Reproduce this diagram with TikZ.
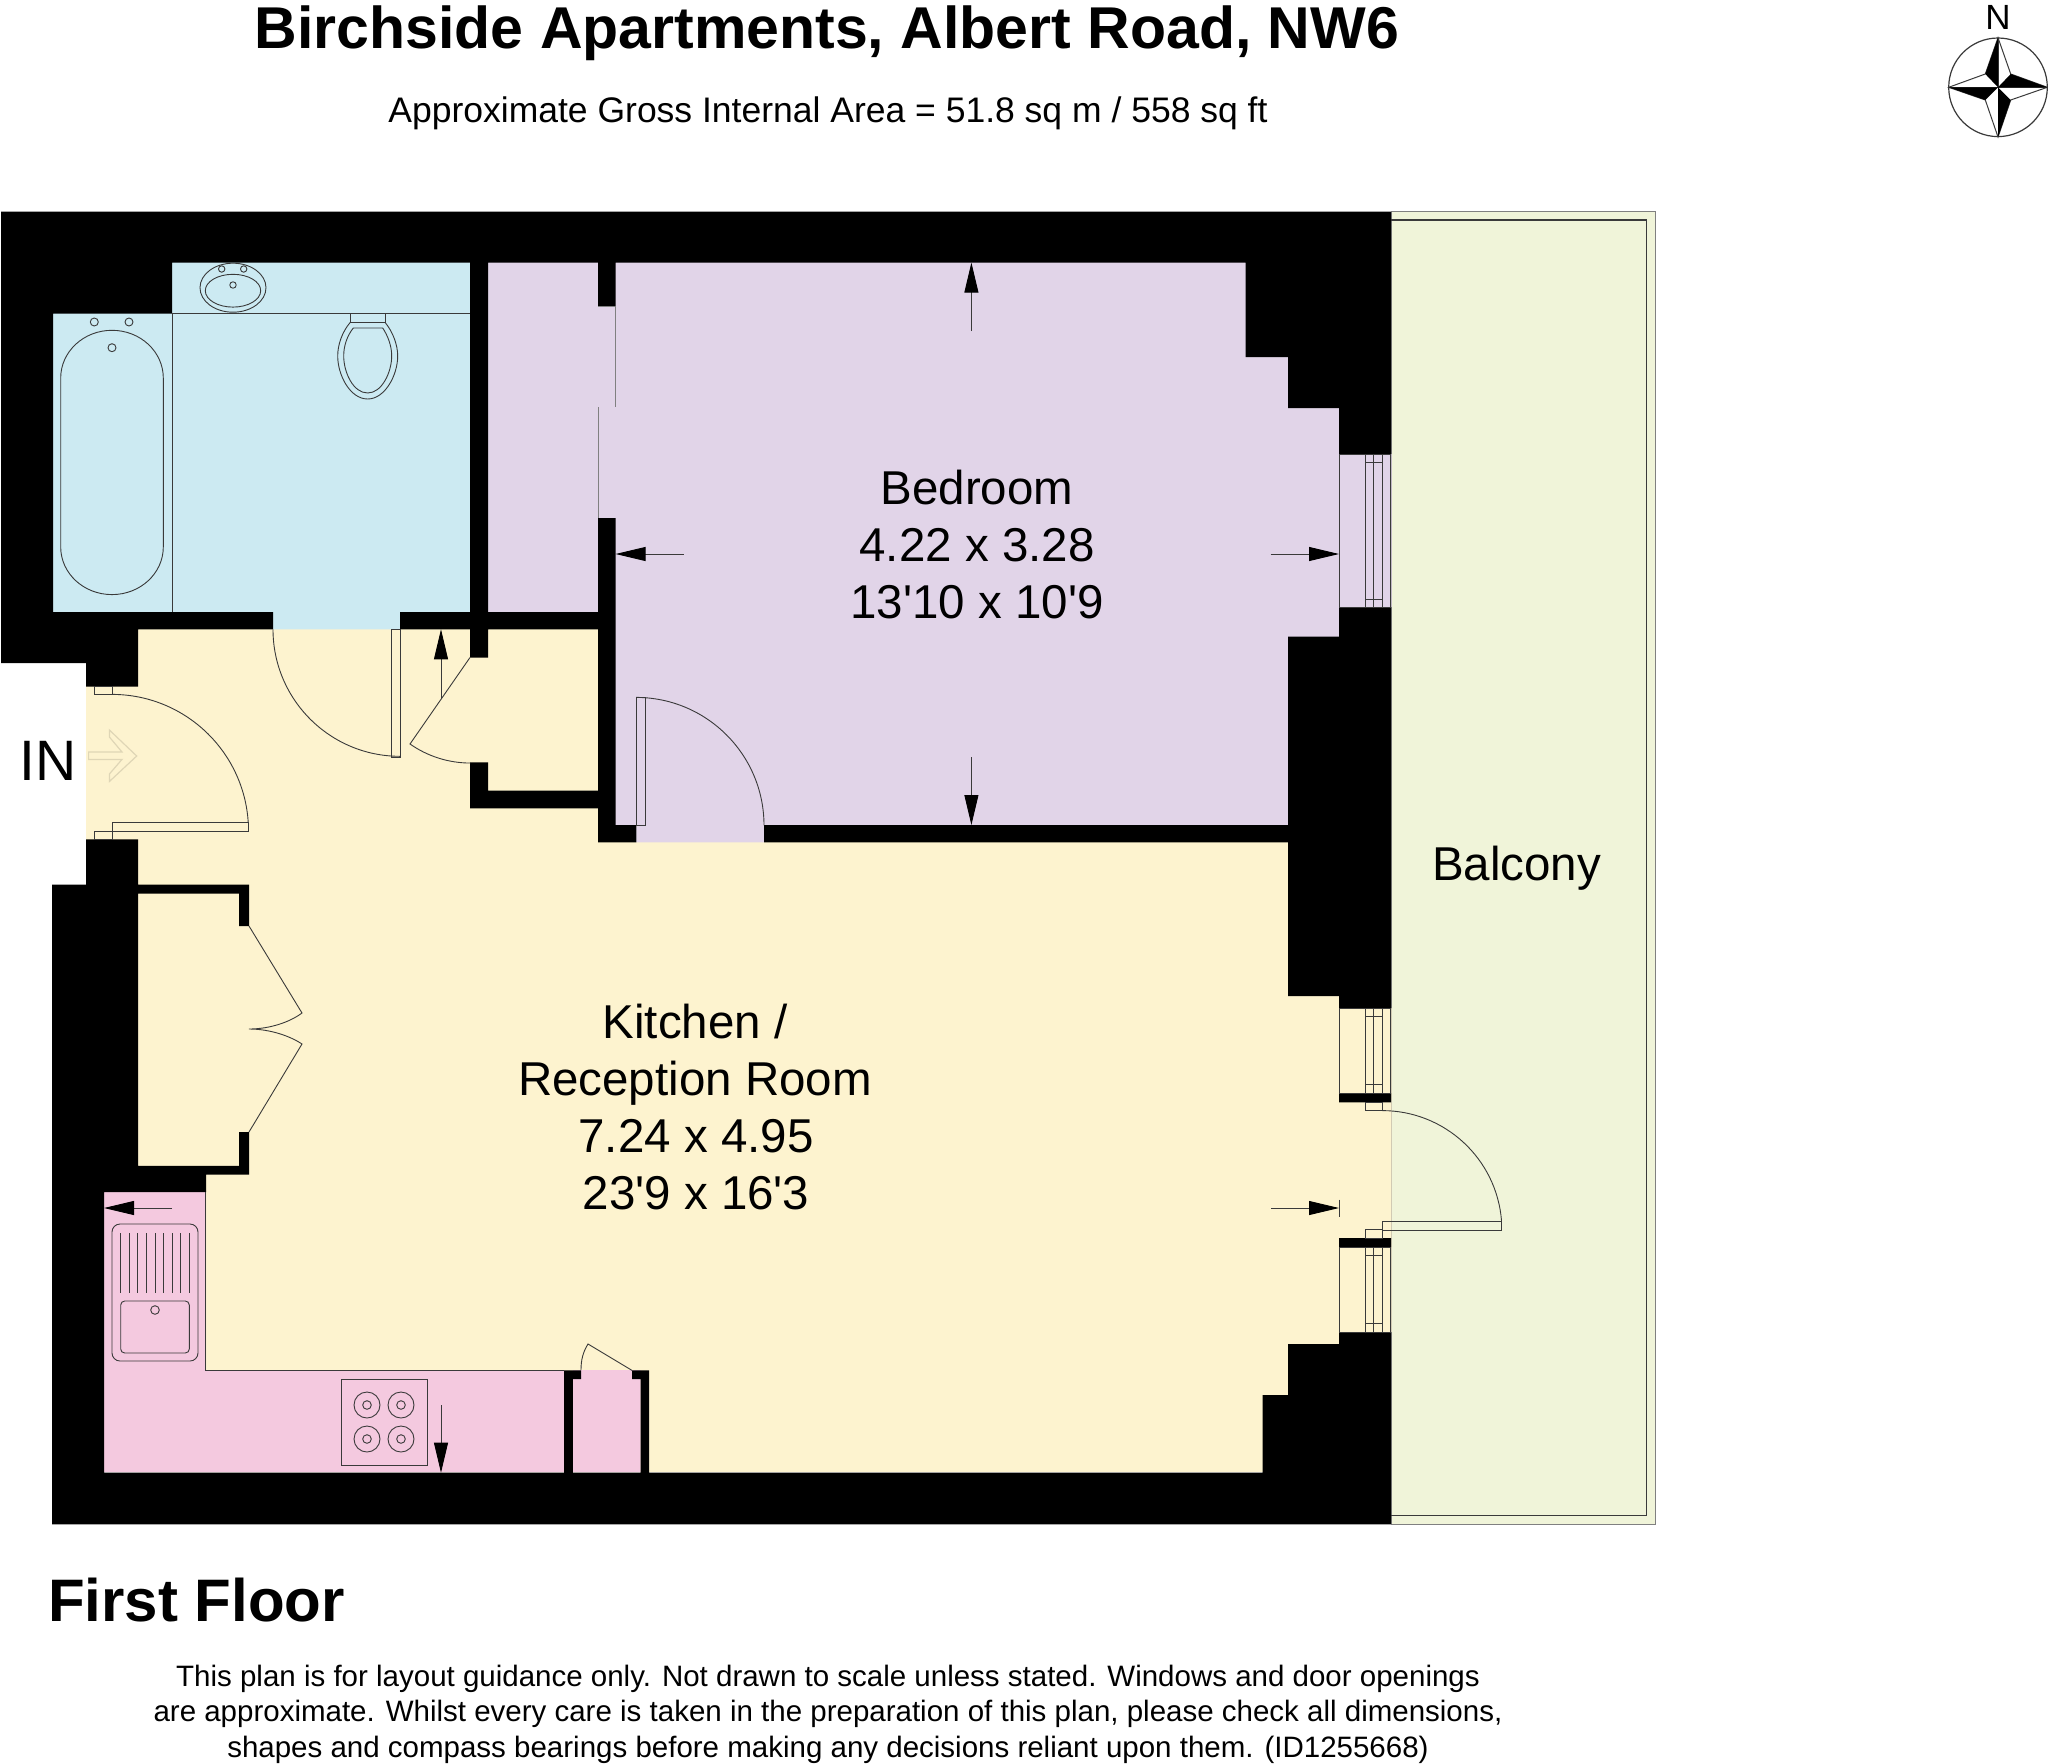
\documentclass[tikz,border=0pt]{standalone}
\usepackage{fontspec}
\setmainfont{Liberation Sans}
\newfontfamily\plainlib{Liberation Sans}
\usetikzlibrary{arrows.meta}
\definecolor{hallY}{HTML}{FDF3CF}
\definecolor{bathB}{HTML}{CCEAF2}
\definecolor{bedP}{HTML}{E1D4E8}
\definecolor{kitP}{HTML}{F4C9DF}
\definecolor{balG}{HTML}{F0F4D9}
\definecolor{lineD}{HTML}{3A3A3A}
\tikzset{
  wall/.style={fill=black},
  thinl/.style={draw=lineD,line width=.9pt,line join=miter},
  dimen/.style={draw=lineD,line width=.9pt,-{Triangle[length=30pt,width=14pt,fill=black,color=black]}},
  lbl/.style={anchor=base,inner sep=0pt,font=\plainlib\fontsize{47.5}{57}\selectfont},
  heading/.style={anchor=base,inner sep=0pt,font=\fontsize{59}{66}\selectfont\bfseries},
  note/.style={anchor=base,inner sep=0pt,font=\fontsize{29.5}{34}\selectfont}
}
\begin{document}
\begin{tikzpicture}[x=1pt,y=-1pt]
\useasboundingbox (0,0) rectangle (2048,1764);
\fill[white] (0,0) rectangle (2048,1764);
% balcony
\filldraw[fill=balG,draw=gray,line width=1pt] (1391,211.7) rectangle (1655.3,1524.3);
\draw[thinl,line width=1.1pt] (1391,220) -- (1646.5,220) -- (1646.5,1515.3) -- (1391,1515.3);
% floors
\fill[hallY] (86,629) rectangle (600,845) (138,842) rectangle (1339,1472) (1335,1008) rectangle (1391.6,1332) (86,600) rectangle (138,890);
\fill[bedP] (488,262) rectangle (600,612) (600,262) rectangle (1339,825) (636.4,820) rectangle (764,842.4) (1335,454) rectangle (1391.6,607);
\fill[bathB] (172,262) rectangle (470,612) (53,313) rectangle (172,612) (273,610) rectangle (400,629.3);
\fill[kitP] (104,1191) rectangle (206,1370) (104,1370) rectangle (564,1472) (573,1370) rectangle (640.6,1472);
% walls
\fill[wall]
 (1,211.7) rectangle (1391,262.6)
 (1,262) rectangle (172,313.6)
 (1,313) rectangle (53,612.2)
 (1,612) rectangle (273,629.3)
 (1,629) rectangle (138,663)
 (86,662.5) rectangle (138,686.6)
 (400,612) rectangle (615.6,629.3)
 (470,262) rectangle (488,612.5)
 (470,629) rectangle (488,657.5)
 (470,762.4) rectangle (488,791)
 (470,790.6) rectangle (615.6,808.4)
 (598,612) rectangle (615.6,791)
 (598,808) rectangle (615.6,842.4)
 (598,825) rectangle (636.4,842.4)
 (764,825) rectangle (1288,842.4)
 (598,262) rectangle (615.6,306)
 (598,518) rectangle (615.6,612.5)
 (1245.7,262) rectangle (1391,357)
 (1288,356.5) rectangle (1391,408)
 (1339,407.5) rectangle (1391,454)
 (1339,607) rectangle (1391,637)
 (1288,636.5) rectangle (1391,996)
 (1339,995.5) rectangle (1391,1008.5)
 (1339,1093) rectangle (1391,1102.4)
 (1339,1238) rectangle (1391,1247)
 (1339,1332) rectangle (1391,1344.4)
 (1288,1344) rectangle (1391,1395.5)
 (1262.7,1395) rectangle (1391,1473)
 (52,1472.7) rectangle (1391,1524.3)
 (86,839.4) rectangle (138,885)
 (52,884.5) rectangle (249,893.6)
 (52,893) rectangle (138,1174.6)
 (239,893) rectangle (249,926)
 (239,1132) rectangle (249,1174.6)
 (52,1165.9) rectangle (249,1174.6)
 (52,1174) rectangle (206,1192.2)
 (52,1191) rectangle (104,1473)
 (564,1370.4) rectangle (572.8,1473)
 (564,1370.4) rectangle (581,1379)
 (640.6,1370.4) rectangle (649,1473)
 (632,1370.4) rectangle (649,1379);
% partition lines
\draw[thinl,draw=gray] (615.6,306) -- (615.6,407) (598,407) -- (598,518) (598,306) -- (615.6,306);
\draw[thinl] (172,313.4) -- (470,313.4) (172,313.4) -- (172,612);
\draw[thinl] (205.7,1192) -- (205.7,1370.4) -- (564,1370.4);
% windows
\foreach \a/\b in {454/607.3,1008.5/1093,1247/1332}{
  \draw[thinl] (1339,\a) rectangle (1390.7,\b);
  \draw[thinl] (1365,\a) rectangle (1382.3,\b);
  \draw[thinl] (1373.7,\a) -- (1373.7,\b);
  \draw[thinl] (1365,\a+8.3) -- (1382.3,\a+8.3) (1365,\b-8.3) -- (1382.3,\b-8.3);
}
% doors
\draw[thinl] (94.7,686.6) rectangle (112,694.4);
\draw[thinl] (112,694.4) arc[start angle=90,end angle=3.5,radius=136.5pt];
\draw[thinl] (112,822.3) rectangle (248.6,831.4);
\draw[thinl] (94.7,831.4) rectangle (112,839.4);
\draw[thinl] (273,629.3) arc[start angle=180,end angle=270,radius=127pt];
\draw[thinl] (391.4,629.3) rectangle (400,757);
\draw[thinl] (470,657.5) -- (410,744) arc[start angle=235,end angle=270,radius=105.3pt];
\draw[thinl] (636,697.4) arc[start angle=90,end angle=0,radius=128pt];
\draw[thinl] (636.4,697.4) rectangle (645.7,825);
\draw[thinl] (1365,1102.4) rectangle (1382.3,1110.6);
\draw[thinl] (1382.3,1110.6) arc[start angle=90,end angle=4.5,radius=119.6pt];
\draw[thinl] (1382.3,1221) rectangle (1501.7,1230.4);
\draw[thinl] (1365,1229.7) rectangle (1382.3,1238);
\draw[thinl] (249,926) -- (302,1013) .. controls (290,1022) and (270,1029) .. (249,1029) .. controls (270,1029) and (290,1036) .. (302,1044) -- (249,1132);
\draw[thinl] (581,1370) .. controls (581,1360) and (583,1352) .. (588,1344) -- (632,1370.4);
% entrance arrow
\draw[draw=black!12!hallY,line width=1.2pt,line join=miter] (88.6,752) -- (122,752) -- (109.4,737) -- (109.4,730) -- (136.7,756) -- (109.4,781.5) -- (109.4,774) -- (122,759.4) -- (88.6,759.4) -- cycle;
% dimension arrows
\draw[dimen] (971.4,331) -- (971.4,262.6);
\draw[dimen] (971.4,757) -- (971.4,825);
\draw[dimen] (683.6,554) -- (615.6,554);
\draw[dimen] (1270.7,554) -- (1339,554);
\draw[dimen] (441,698.7) -- (441,629.3);
\draw[dimen] (172,1208) -- (104,1208);
\draw[dimen] (441,1405) -- (441,1472.7);
\draw[dimen] (1271,1208) -- (1339,1208);
\draw[thinl] (1339,1199.7) -- (1339,1216.7);
% bath
\draw[thinl] (60.7,378) arc[start angle=180,end angle=90,x radius=51.3pt,y radius=47.7pt]
  arc[start angle=90,end angle=0,x radius=51.3pt,y radius=47.7pt] -- (163.3,547)
  arc[start angle=0,end angle=-90,x radius=51.3pt,y radius=47.6pt]
  arc[start angle=-90,end angle=-180,x radius=51.3pt,y radius=47.6pt] -- cycle;
\draw[thinl] (94.3,322) circle[radius=4pt] (129,322) circle[radius=4pt] (112,347.7) circle[radius=4pt];
% basin
\draw[thinl] (233,287.7) ellipse[x radius=33pt,y radius=24.5pt];
\draw[thinl] (233,290.7) ellipse[x radius=27.7pt,y radius=16.4pt];
\draw[thinl] (221.7,269) circle[radius=3.2pt] (243.7,269) circle[radius=3.2pt] (233,285) circle[radius=3.2pt];
% toilet
\draw[thinl] (350.3,313.4) rectangle (385,322.3);
\draw[thinl] (350.3,322.3) .. controls (342,332) and (337.7,345) .. (337.7,356) .. controls (337.7,375) and (350,399) .. (367.7,399) .. controls (385,399) and (397.7,375) .. (397.7,356) .. controls (397.7,345) and (393,332) .. (385,322.3);
\draw[thinl] (353.3,328) .. controls (347,336) and (343.7,346) .. (343.7,356) .. controls (343.7,372) and (353,393) .. (367.7,393) .. controls (382,393) and (391.7,372) .. (391.7,356) .. controls (391.7,346) and (388,336) .. (382.7,328) -- cycle;
% sink
\draw[thinl,rounded corners=8pt] (112,1224) rectangle (198,1361);
\draw[thinl,rounded corners=4pt] (120.7,1301) rectangle (189.3,1353);
\foreach \i in {0,...,8}{\draw[thinl] (120.7+8.575*\i,1233) -- (120.7+8.575*\i,1293);}
\draw[thinl] (155,1310) circle[radius=4.3pt];
% hob
\draw[thinl] (341,1379) rectangle (427,1465);
\foreach \x in {367,401}{\foreach \y in {1405,1439}{
  \draw[thinl] (\x,\y) circle[radius=13pt] (\x,\y) circle[radius=4.3pt];}}
% compass
\draw[draw=lineD,line width=1.2pt] (1998,87.3) circle[radius=49.3pt];
\draw[draw=lineD,line width=1pt,line join=miter] (1998,37.7) -- (2010.7,74) -- (2047.3,87.3) -- (2010.7,100) -- (1998,137) -- (1985.3,100) -- (1948.7,87.3) -- (1985.3,74) -- cycle;
\draw[draw=lineD,line width=1pt] (1948.7,87.3) -- (2047.3,87.3) (1998,37.7) -- (1998,137);
\fill[black] (1998,37.7) -- (1985.3,74) -- (1998,87.3) -- cycle
 (1998,87.3) -- (2010.7,74) -- (2047.3,87.3) -- cycle
 (1998,87.3) -- (2010.7,100) -- (1998,137) -- cycle
 (1998,87.3) -- (1985.3,100) -- (1948.7,87.3) -- cycle;
% text
\node[heading] (title) at (827,48) {Birchside Apartments, Albert Road, NW6};
\node[anchor=base,inner sep=0pt,font=\fontsize{35.5}{40}\selectfont] (sub) at (828,122) {Approximate Gross Internal Area = 51.8 sq m / 558 sq ft};
\node[anchor=base,inner sep=0pt,font=\fontsize{35}{40}\selectfont] (north) at (1998,29.3) {N};
\node[anchor=base west,inner sep=0pt,font=\fontsize{57}{60}\selectfont] (in) at (19,780) {IN};
\node[lbl] (bed1) at (977,504.5) {Bedroom};
\node[lbl] (bed2) at (977,561.5) {4.22 x 3.28};
\node[lbl] (bed3) at (977,618.5) {13'10 x 10'9};
\node[lbl] (kit1) at (695,1038) {Kitchen /};
\node[lbl] (kit2) at (695,1095) {Reception Room};
\node[lbl] (kit3) at (696,1152) {7.24 x 4.95};
\node[lbl] (kit4) at (696,1209) {23'9 x 16'3};
\node[lbl] (balc) at (1516.5,880) {Balcony};
\node[heading,anchor=base west,font=\fontsize{60}{66}\selectfont\bfseries] (floor) at (48,1621) {First Floor};
\node[note] (n1) at (828,1686) {This plan is for layout guidance only. Not drawn to scale unless stated. Windows and door openings};
\node[note] (n2) at (828,1721.5) {are approximate. Whilst every care is taken in the preparation of this plan, please check all dimensions,};
\node[note] (n3) at (828,1757) {shapes and compass bearings before making any decisions reliant upon them. (ID1255668)};
\end{tikzpicture}
\end{document}
